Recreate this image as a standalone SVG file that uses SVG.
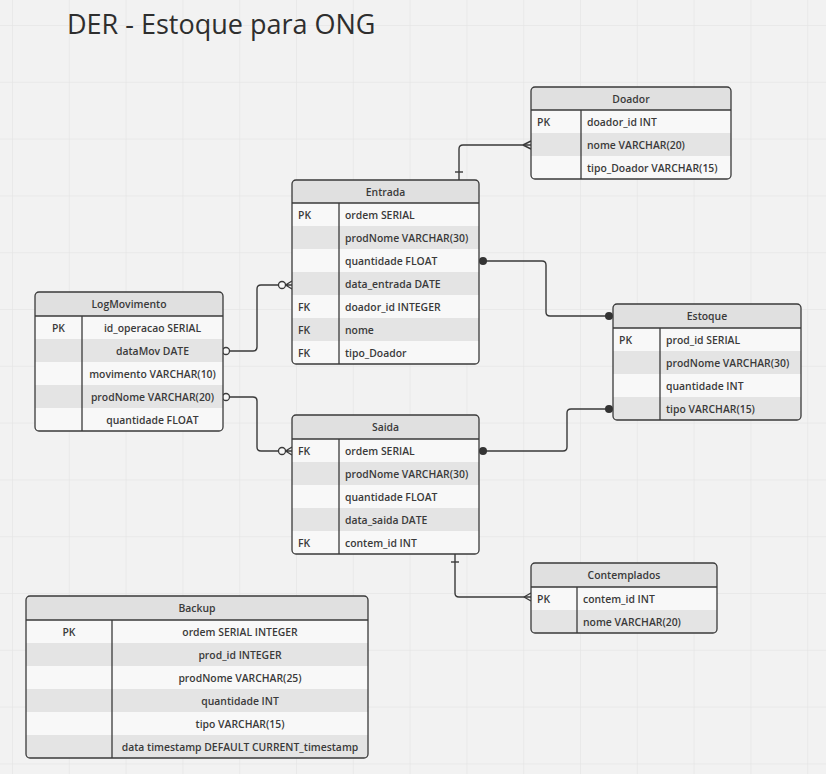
<svg xmlns="http://www.w3.org/2000/svg" width="826" height="774" viewBox="0 0 826 774">
<defs>
<pattern id="grid" x="12" y="25" width="56.8" height="56.8" patternUnits="userSpaceOnUse">
<rect width="56.8" height="56.8" fill="#f2f2f2"/>
<path d="M0 0 H56.8 M0 0 V56.8" stroke="#e6e6e6" stroke-width="1.5" fill="none"/>
</pattern>
<clipPath id="cDoador"><rect x="531" y="87" width="200" height="92" rx="4"/></clipPath>
<clipPath id="cEntrada"><rect x="292" y="180" width="187" height="184" rx="4"/></clipPath>
<clipPath id="cLog"><rect x="35" y="292" width="188" height="139" rx="4"/></clipPath>
<clipPath id="cEstoque"><rect x="613" y="304" width="188" height="116" rx="4"/></clipPath>
<clipPath id="cSaida"><rect x="292" y="415" width="187" height="139" rx="4"/></clipPath>
<clipPath id="cCont"><rect x="531" y="563" width="186" height="70" rx="4"/></clipPath>
<clipPath id="cBackup"><rect x="26" y="596" width="342" height="162" rx="4"/></clipPath>
</defs>
<style>
.bg{fill:#f8f8f8}
.hd{fill:#e0e0e0}
.g{fill:#e4e4e4}
.bd{fill:none;stroke:#3a3a3a;stroke-width:1.3}
.ln{stroke:#3a3a3a;stroke-width:1.3;fill:none}
text{font-family:"Open Sans","DejaVu Sans",sans-serif;font-size:10.4px;font-weight:600;fill:#3a3a3a}
.c{text-anchor:middle}
.title{font-size:27px;font-weight:400;fill:#2e2e2e}
.conn{stroke:#3a3a3a;stroke-width:1.4;fill:none}
.dot{fill:#333}
.oc{fill:#f8f8f8;stroke:#3a3a3a;stroke-width:1.3}
</style>
<rect width="826" height="774" fill="url(#grid)"/>
<text class="title" x="67" y="34">DER - Estoque para ONG</text>

<g id="connectors">
<path class="conn" d="M531 145 H463 Q459 145 459 149 V180"/>
<path class="conn" d="M523 145 L531 141 M523 145 L531 149"/>
<path class="conn" d="M455 172 H463"/>
<path class="conn" d="M229.5 351 H253 Q257 351 257 347 V289 Q257 285 261 285 H278.5"/>
<circle class="oc" cx="226" cy="351" r="3.5"/>
<circle class="oc" cx="282" cy="285" r="3.5"/>
<path class="conn" d="M285.5 285 H292 M285.5 285 L292 281 M285.5 285 L292 289"/>
<path class="conn" d="M229.5 397 H253 Q257 397 257 401 V447 Q257 451 261 451 H278.5"/>
<circle class="oc" cx="226" cy="397" r="3.5"/>
<circle class="oc" cx="282" cy="451" r="3.5"/>
<path class="conn" d="M285.5 451 H292 M285.5 451 L292 447 M285.5 451 L292 455"/>
<path class="conn" d="M483 261 H542 Q546 261 546 265 V312 Q546 316 550 316 H609"/>
<circle class="dot" cx="483" cy="261" r="4"/>
<circle class="dot" cx="609" cy="316" r="4"/>
<path class="conn" d="M483 451 H563 Q567 451 567 447 V413 Q567 409 571 409 H609"/>
<circle class="dot" cx="483" cy="451" r="4"/>
<circle class="dot" cx="609" cy="409" r="4"/>
<path class="conn" d="M455 554 V593 Q455 597 459 597 H531"/>
<path class="conn" d="M451 562 H459"/>
<path class="conn" d="M524 597 L531 593 M524 597 L531 601"/>
</g>

<g id="Doador">
<g clip-path="url(#cDoador)">
<rect class="bg" x="531" y="87" width="200" height="92"/>
<rect class="hd" x="531" y="87" width="200" height="23"/>
<rect class="g" x="531" y="133" width="200" height="23"/>
</g>
<rect class="bd" x="531" y="87" width="200" height="92" rx="4"/>
<path class="ln" d="M531 110 H731 M581 110 V179"/>
<text class="c" x="631" y="102.5">Doador</text>
<text x="537" y="125.5">PK</text>
<text x="587" y="125.5">doador_id INT</text>
<text x="587" y="148.5">nome VARCHAR(20)</text>
<text x="587" y="171.5">tipo_Doador VARCHAR(15)</text>
</g>

<g id="Entrada">
<g clip-path="url(#cEntrada)">
<rect class="bg" x="292" y="180" width="187" height="184"/>
<rect class="hd" x="292" y="180" width="187" height="23"/>
<rect class="g" x="292" y="226" width="187" height="23"/>
<rect class="g" x="292" y="272" width="187" height="23"/>
<rect class="g" x="292" y="318" width="187" height="23"/>
</g>
<rect class="bd" x="292" y="180" width="187" height="184" rx="4"/>
<path class="ln" d="M292 203 H479 M339 203 V364"/>
<text class="c" x="385.5" y="195.5">Entrada</text>
<text x="298" y="218.5">PK</text>
<text x="345" y="218.5">ordem SERIAL</text>
<text x="345" y="241.5">prodNome VARCHAR(30)</text>
<text x="345" y="264.5">quantidade FLOAT</text>
<text x="345" y="287.5">data_entrada DATE</text>
<text x="298" y="310.5">FK</text>
<text x="345" y="310.5">doador_id INTEGER</text>
<text x="298" y="333.5">FK</text>
<text x="345" y="333.5">nome</text>
<text x="298" y="356.5">FK</text>
<text x="345" y="356.5">tipo_Doador</text>
</g>

<g id="LogMovimento">
<g clip-path="url(#cLog)">
<rect class="bg" x="35" y="292" width="188" height="139"/>
<rect class="hd" x="35" y="292" width="188" height="24"/>
<rect class="g" x="35" y="339" width="188" height="23"/>
<rect class="g" x="35" y="385" width="188" height="23"/>
</g>
<rect class="bd" x="35" y="292" width="188" height="139" rx="4"/>
<path class="ln" d="M35 316 H223 M82 316 V431"/>
<text class="c" x="129" y="308">LogMovimento</text>
<text class="c" x="58.5" y="331.5">PK</text>
<text class="c" x="152.5" y="331.5">id_operacao SERIAL</text>
<text class="c" x="152.5" y="354.5">dataMov DATE</text>
<text class="c" x="152.5" y="377.5">movimento VARCHAR(10)</text>
<text class="c" x="152.5" y="400.5">prodNome VARCHAR(20)</text>
<text class="c" x="152.5" y="423.5">quantidade FLOAT</text>
</g>

<g id="Estoque">
<g clip-path="url(#cEstoque)">
<rect class="bg" x="613" y="304" width="188" height="116"/>
<rect class="hd" x="613" y="304" width="188" height="24"/>
<rect class="g" x="613" y="351" width="188" height="23"/>
<rect class="g" x="613" y="397" width="188" height="23"/>
</g>
<rect class="bd" x="613" y="304" width="188" height="116" rx="4"/>
<path class="ln" d="M613 328 H801 M660 328 V420"/>
<text class="c" x="707" y="320">Estoque</text>
<text x="619" y="343.5">PK</text>
<text x="666" y="343.5">prod_id SERIAL</text>
<text x="666" y="366.5">prodNome VARCHAR(30)</text>
<text x="666" y="389.5">quantidade INT</text>
<text x="666" y="412.5">tipo VARCHAR(15)</text>
</g>

<g id="Saida">
<g clip-path="url(#cSaida)">
<rect class="bg" x="292" y="415" width="187" height="139"/>
<rect class="hd" x="292" y="415" width="187" height="24"/>
<rect class="g" x="292" y="462" width="187" height="23"/>
<rect class="g" x="292" y="508" width="187" height="23"/>
</g>
<rect class="bd" x="292" y="415" width="187" height="139" rx="4"/>
<path class="ln" d="M292 439 H479 M339 439 V554"/>
<text class="c" x="385.5" y="431">Saida</text>
<text x="298" y="454.5">FK</text>
<text x="345" y="454.5">ordem SERIAL</text>
<text x="345" y="477.5">prodNome VARCHAR(30)</text>
<text x="345" y="500.5">quantidade FLOAT</text>
<text x="345" y="523.5">data_saida DATE</text>
<text x="298" y="546.5">FK</text>
<text x="345" y="546.5">contem_id INT</text>
</g>

<g id="Contemplados">
<g clip-path="url(#cCont)">
<rect class="bg" x="531" y="563" width="186" height="70"/>
<rect class="hd" x="531" y="563" width="186" height="24"/>
<rect class="g" x="531" y="610" width="186" height="23"/>
</g>
<rect class="bd" x="531" y="563" width="186" height="70" rx="4"/>
<path class="ln" d="M531 587 H717 M577 587 V633"/>
<text class="c" x="624" y="579">Contemplados</text>
<text x="537" y="602.5">PK</text>
<text x="583" y="602.5">contem_id INT</text>
<text x="583" y="625.5">nome VARCHAR(20)</text>
</g>

<g id="Backup">
<g clip-path="url(#cBackup)">
<rect class="bg" x="26" y="596" width="342" height="162"/>
<rect class="hd" x="26" y="596" width="342" height="24"/>
<rect class="g" x="26" y="643" width="342" height="23"/>
<rect class="g" x="26" y="689" width="342" height="23"/>
<rect class="g" x="26" y="735" width="342" height="23"/>
</g>
<rect class="bd" x="26" y="596" width="342" height="162" rx="4"/>
<path class="ln" d="M26 620 H368 M112 620 V758"/>
<text class="c" x="197" y="612">Backup</text>
<text class="c" x="69" y="635.5">PK</text>
<text class="c" x="240" y="635.5">ordem SERIAL INTEGER</text>
<text class="c" x="240" y="658.5">prod_id INTEGER</text>
<text class="c" x="240" y="681.5">prodNome VARCHAR(25)</text>
<text class="c" x="240" y="704.5">quantidade INT</text>
<text class="c" x="240" y="727.5">tipo VARCHAR(15)</text>
<text class="c" x="240" y="750.5">data timestamp DEFAULT CURRENT_timestamp</text>
</g>
</svg>
